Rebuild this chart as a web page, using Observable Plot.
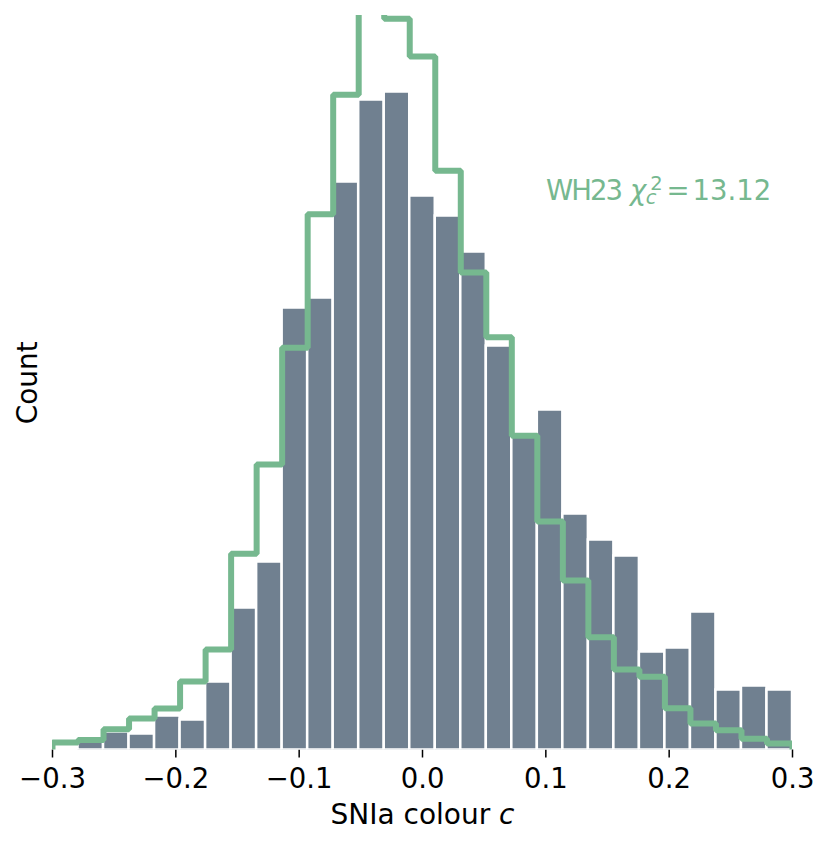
<!DOCTYPE html>
<html>
<head>
<meta charset="utf-8">
<script src="https://cdn.jsdelivr.net/npm/d3@7"></script>
<script src="https://cdn.jsdelivr.net/npm/@observablehq/plot@0.6"></script>
<style>
  html, body { margin: 0; padding: 0; background: white; }
  svg [aria-label="x-axis tick"] path { stroke-width: 1.5px; }
</style>
</head>
<body>
<div id="chart"></div>
<script>
// ---- data ----
const xMin = -0.3, xMax = 0.3, nBins = 29;
const xTicks = [-0.3, -0.2, -0.1, 0.0, 0.1, 0.2, 0.3];
// observed SNIa colour histogram counts per bin
const dataCounts = [0, 4, 9, 8, 17, 15, 34, 71, 94, 221, 226, 284, 325, 329, 277, 267, 249, 202, 157, 170, 118, 105, 97, 49, 51, 69, 30, 32, 30];
// WH23 model histogram per bin
const wh23Counts = [3.75, 5.0, 10.4, 15.75, 20.75, 34.25, 50.25, 98.1, 142.75, 201.1, 267.9, 327.6, 385, 365.6, 346.75, 289.6, 238.75, 206.4, 157.1, 114.25, 84.75, 56.4, 40.25, 36.6, 20.9, 13.25, 9.9, 5.6, 3.25];
const yMax = 367.25;
const xLabel = "SNIa colour ";
const xLabelItalic = "c";
const yLabel = "Count";
const annotation = "WH23 χc2 = 13.12";

const green = "#76b88f";
const slate = "#708090";

// ---- derived tables ----
const edges = d3.range(nBins + 1).map(i => xMin + i * (xMax - xMin) / nBins);
const bins = dataCounts.map((c, i) => ({x0: edges[i], x1: edges[i + 1], count: c}));
const stepPts = [{x: edges[0], y: 0}];
wh23Counts.forEach((v, i) => { stepPts.push({x: edges[i], y: v}, {x: edges[i + 1], y: v}); });
stepPts.push({x: edges[nBins], y: 0});

const plot = Plot.plot({
  width: 831,
  height: 846,
  marginLeft: 52,
  marginRight: 39,
  marginTop: 15,
  marginBottom: 96.5,
  style: {fontFamily: "DejaVu Sans", fontSize: "27.5px", background: "white", color: "black", overflow: "visible"},
  x: {domain: [xMin, xMax], ticks: xTicks, tickFormat: d3.format(".1f"), tickSize: 8, tickPadding: 10, label: null},
  y: {domain: [0, yMax], axis: null},
  marks: [
    Plot.rectY(bins, {x1: "x0", x2: "x1", y: "count", fill: slate, stroke: "white", strokeWidth: 2.5, clip: true}),
    Plot.line(stepPts, {x: "x", y: "y", stroke: green, strokeWidth: 6, strokeLinejoin: "miter", strokeLinecap: "butt", clip: true}),
    Plot.text([xLabel], {text: d => d, frameAnchor: "bottom", lineAnchor: "bottom", dy: 73.8, fill: "black", fontSize: 28}),
    Plot.text([yLabel], {text: d => d, frameAnchor: "left", rotate: -90, lineAnchor: "bottom", textAnchor: "middle", dx: -15.3, fill: "black", fontSize: 28}),
    Plot.text([annotation], {text: d => d, frameAnchor: "top-left", lineAnchor: "bottom", textAnchor: "start", dx: 493.6, dy: 184, fill: green, fontSize: 27.5})
  ]
});
document.getElementById("chart").appendChild(plot);

// ---- rich text (italics, sub/superscripts) ----
const NS = "http://www.w3.org/2000/svg";
function rich(el, parts) {
  el.textContent = "";
  for (const p of parts) {
    const t = document.createElementNS(NS, "tspan");
    t.textContent = p.t;
    if (p.italic) t.setAttribute("font-style", "italic");
    if (p.size) t.setAttribute("font-size", p.size);
    if (p.dx != null) t.setAttribute("dx", p.dx);
    if (p.dy != null) t.setAttribute("dy", p.dy);
    if (p.ls != null) t.setAttribute("letter-spacing", p.ls);
    el.appendChild(t);
  }
}
for (const el of plot.querySelectorAll("text")) {
  if (el.textContent === xLabel.trim() || el.textContent === xLabel) {
    rich(el, [{t: xLabel}, {t: xLabelItalic, italic: true}]);
  } else if (el.textContent === annotation) {
    rich(el, [
      {t: "WH23", ls: -2},
      {t: "χ", italic: true, dx: 9},
      {t: "2", size: 19.5, dx: 4, dy: -9.7},
      {t: "c", italic: true, size: 19.5, dx: -17, dy: 14},
      {t: "=", dx: 10, dy: -4.3},
      {t: "13.12", dx: 3}
    ]);
  }
}
</script>
</body>
</html>
